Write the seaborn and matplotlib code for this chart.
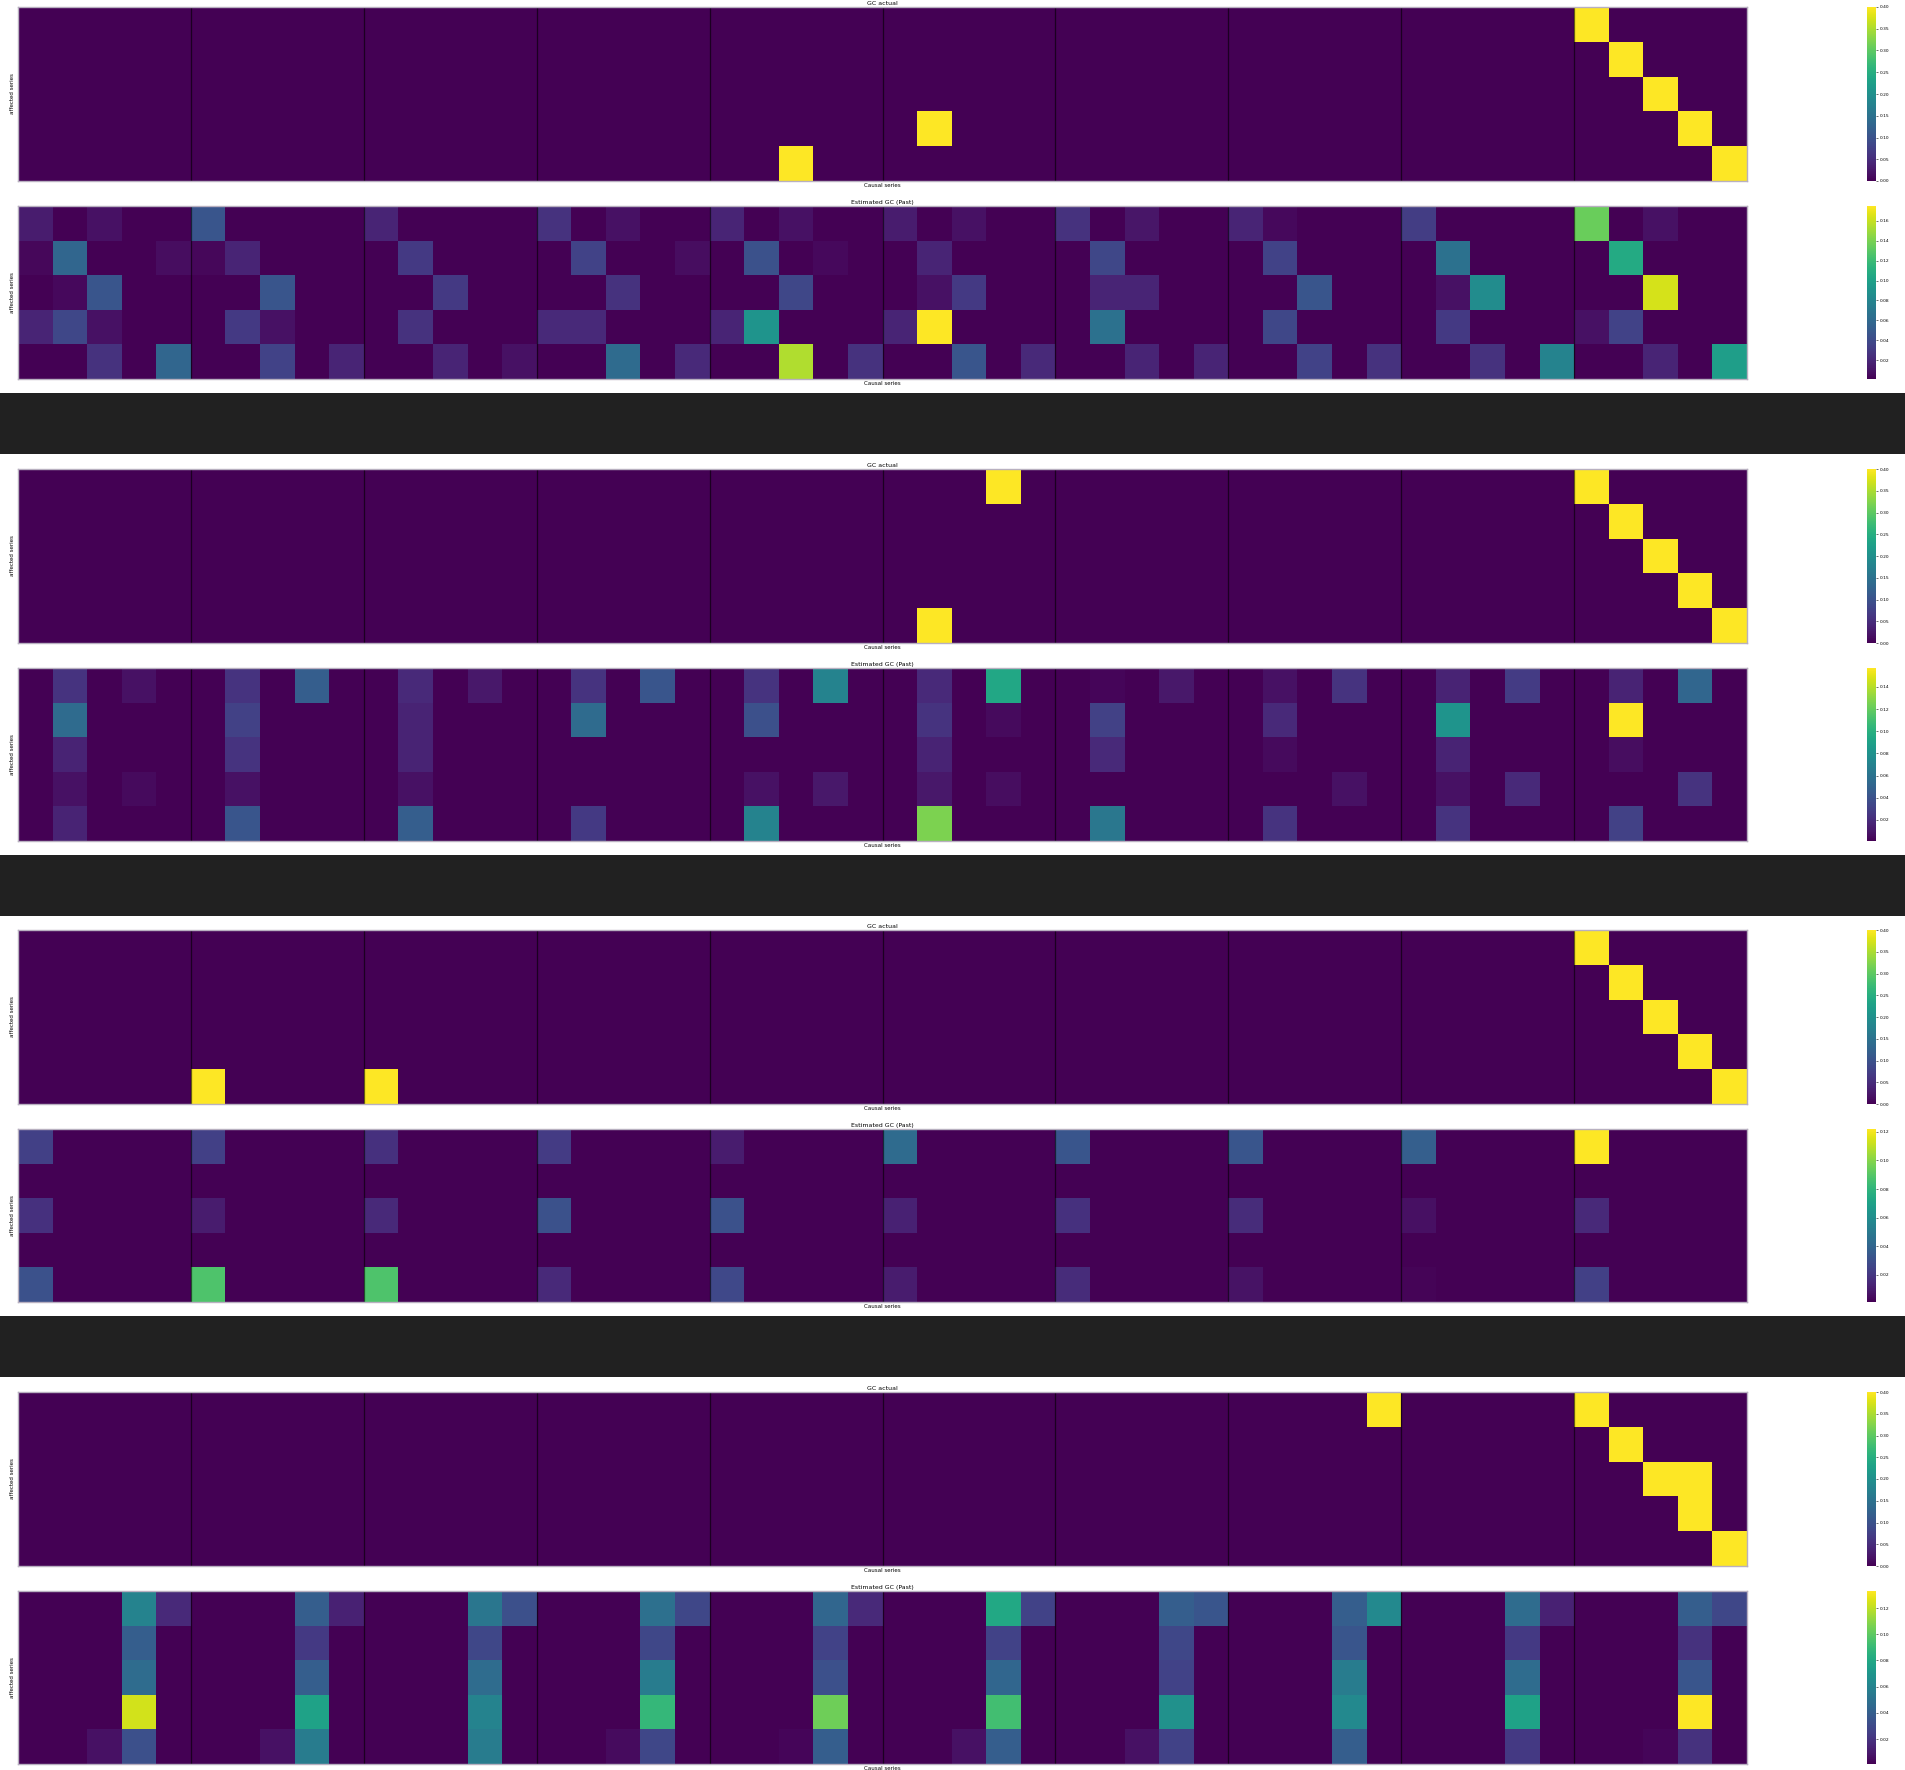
import numpy as np
import matplotlib
matplotlib.use("Agg")
import matplotlib.pyplot as plt
import seaborn as sns
from matplotlib.patches import Rectangle

# ------------------------------
# data: 5 affected series x 50 causal columns (10 lags x 5 series)
# ------------------------------
n_series = 5
n_lags = 10
gc_level = 0.4        # value of a true link in the "GC actual" matrix
est_floor = 0.001     # smallest estimated strength

# true links (row, col)
gc_actual_1 = [(4, 22), (3, 26), (0, 45), (1, 46), (2, 47), (3, 48), (4, 49)]
gc_actual_2 = [(0, 28), (4, 26), (0, 45), (1, 46), (2, 47), (3, 48), (4, 49)]
gc_actual_3 = [(4, 5), (4, 10), (0, 45), (1, 46), (2, 47), (3, 48), (4, 49)]
gc_actual_4 = [(0, 39), (0, 45), (1, 46), (2, 47), (2, 48), (3, 48), (4, 49)]

# estimated strengths (row, col, value)
est_1 = [
    (0, 0, 0.014), (0, 2, 0.009), (1, 0, 0.004), (1, 1, 0.058), (1, 4, 0.007),
    (2, 1, 0.005), (2, 2, 0.047), (3, 0, 0.018), (3, 1, 0.038), (3, 2, 0.009),
    (4, 2, 0.026), (4, 4, 0.058),
    (0, 5, 0.047), (1, 5, 0.004), (1, 6, 0.018), (2, 7, 0.047), (3, 6, 0.030),
    (3, 7, 0.009), (4, 7, 0.035), (4, 9, 0.018),
    (0, 10, 0.018), (1, 11, 0.030), (2, 12, 0.030), (3, 11, 0.026),
    (4, 12, 0.018), (4, 14, 0.009),
    (0, 15, 0.026), (0, 17, 0.009), (1, 16, 0.035), (1, 19, 0.007),
    (2, 17, 0.026), (3, 15, 0.021), (3, 16, 0.021), (4, 17, 0.061), (4, 19, 0.021),
    (0, 20, 0.018), (0, 22, 0.009), (1, 21, 0.044), (1, 23, 0.005),
    (2, 22, 0.038), (3, 20, 0.018), (3, 21, 0.091), (4, 22, 0.154), (4, 24, 0.026),
    (0, 25, 0.014), (0, 27, 0.009), (1, 26, 0.018), (2, 26, 0.009),
    (2, 27, 0.030), (3, 25, 0.018), (3, 26, 0.175), (4, 27, 0.047), (4, 29, 0.021),
    (0, 30, 0.026), (0, 32, 0.011), (1, 31, 0.038), (2, 31, 0.018),
    (2, 32, 0.018), (3, 31, 0.066), (4, 32, 0.018), (4, 34, 0.018),
    (0, 35, 0.018), (0, 36, 0.005), (1, 36, 0.035), (2, 37, 0.047),
    (3, 36, 0.038), (4, 37, 0.035), (4, 39, 0.026),
    (0, 40, 0.032), (1, 41, 0.066), (2, 41, 0.009), (2, 42, 0.085),
    (3, 41, 0.030), (4, 42, 0.026), (4, 44, 0.079),
    (0, 45, 0.135), (0, 47, 0.009), (1, 46, 0.107), (2, 47, 0.164),
    (3, 45, 0.009), (3, 46, 0.035), (4, 47, 0.018), (4, 49, 0.098),
]

est_2 = [
    (0, 1, 0.024), (0, 3, 0.008), (1, 1, 0.055), (2, 1, 0.016), (3, 1, 0.008),
    (3, 3, 0.005), (4, 1, 0.016),
    (0, 6, 0.024), (0, 8, 0.047), (1, 6, 0.031), (2, 6, 0.024), (3, 6, 0.008),
    (4, 6, 0.042),
    (0, 11, 0.019), (0, 13, 0.011), (1, 11, 0.016), (2, 11, 0.016),
    (3, 11, 0.008), (4, 11, 0.047),
    (0, 16, 0.024), (0, 18, 0.042), (1, 16, 0.055), (4, 16, 0.027),
    (0, 21, 0.024), (0, 23, 0.071), (1, 21, 0.039), (3, 21, 0.008),
    (3, 23, 0.011), (4, 21, 0.071),
    (0, 26, 0.019), (0, 28, 0.094), (1, 26, 0.024), (1, 28, 0.005),
    (2, 26, 0.016), (3, 26, 0.011), (3, 28, 0.006), (4, 26, 0.126),
    (0, 31, 0.003), (0, 33, 0.011), (1, 31, 0.031), (2, 31, 0.019), (4, 31, 0.063),
    (0, 36, 0.008), (0, 38, 0.024), (1, 36, 0.019), (2, 36, 0.005),
    (3, 38, 0.008), (4, 36, 0.024),
    (0, 41, 0.016), (0, 43, 0.028), (1, 41, 0.082), (2, 41, 0.016),
    (3, 41, 0.008), (3, 43, 0.019), (4, 41, 0.024),
    (0, 46, 0.016), (0, 48, 0.052), (1, 46, 0.157), (2, 46, 0.006),
    (3, 48, 0.024), (4, 46, 0.031),
]

est_3 = [
    (0, 0, 0.024), (0, 5, 0.024), (0, 10, 0.018), (0, 15, 0.022), (0, 20, 0.010),
    (0, 25, 0.043), (0, 30, 0.033), (0, 35, 0.033), (0, 40, 0.037), (0, 45, 0.122),
    (2, 0, 0.018), (2, 5, 0.010), (2, 10, 0.015), (2, 15, 0.031), (2, 20, 0.031),
    (2, 25, 0.012), (2, 30, 0.018), (2, 35, 0.016), (2, 40, 0.006), (2, 45, 0.015),
    (4, 0, 0.031), (4, 5, 0.088), (4, 10, 0.088), (4, 15, 0.015), (4, 20, 0.027),
    (4, 25, 0.010), (4, 30, 0.016), (4, 35, 0.007), (4, 40, 0.002), (4, 45, 0.024),
]

est_4 = [
    (0, 3, 0.060), (0, 4, 0.016), (1, 3, 0.040), (2, 3, 0.047), (3, 3, 0.124),
    (4, 2, 0.007), (4, 3, 0.033),
    (0, 8, 0.040), (0, 9, 0.013), (1, 8, 0.023), (2, 8, 0.040), (3, 8, 0.077),
    (4, 7, 0.007), (4, 8, 0.056),
    (0, 13, 0.053), (0, 14, 0.033), (1, 13, 0.029), (2, 13, 0.047),
    (3, 13, 0.060), (4, 13, 0.056),
    (0, 18, 0.049), (0, 19, 0.029), (1, 18, 0.029), (2, 18, 0.056),
    (3, 18, 0.089), (4, 17, 0.005), (4, 18, 0.029),
    (0, 23, 0.044), (0, 24, 0.016), (1, 23, 0.027), (2, 23, 0.033),
    (3, 23, 0.104), (4, 22, 0.003), (4, 23, 0.040),
    (0, 28, 0.080), (0, 29, 0.027), (1, 28, 0.027), (2, 28, 0.044),
    (3, 28, 0.093), (4, 27, 0.007), (4, 28, 0.040),
    (0, 33, 0.040), (0, 34, 0.036), (1, 33, 0.029), (2, 33, 0.027),
    (3, 33, 0.067), (4, 32, 0.007), (4, 33, 0.027),
    (0, 38, 0.040), (0, 39, 0.063), (1, 38, 0.036), (2, 38, 0.056),
    (3, 38, 0.063), (4, 38, 0.040),
    (0, 43, 0.047), (0, 44, 0.013), (1, 43, 0.023), (2, 43, 0.047),
    (3, 43, 0.077), (4, 43, 0.023),
    (0, 48, 0.040), (0, 49, 0.029), (1, 48, 0.020), (2, 48, 0.036),
    (3, 48, 0.133), (4, 47, 0.003), (4, 48, 0.020),
]

actual_sets = [gc_actual_1, gc_actual_2, gc_actual_3, gc_actual_4]
estimated_sets = [est_1, est_2, est_3, est_4]


def actual_matrix(links):
    m = np.zeros((n_series, n_series * n_lags))
    for r, c in links:
        m[r, c] = gc_level
    return m


def estimated_matrix(cells):
    m = np.full((n_series, n_series * n_lags), est_floor)
    for r, c, v in cells:
        m[r, c] = v
    return m


# ------------------------------
# layout (pixels)
# ------------------------------
W, H = 1906, 1770
fig = plt.figure(figsize=(W / 100, H / 100), dpi=100)
fig.patch.set_facecolor("white")


def px_axes(left, top, width, height):
    return fig.add_axes([left / W, 1 - (top + height) / H, width / W, height / H])


group_tops = [7, 469, 930, 1392]
band_tops = [393, 855, 1316]

for bt in band_tops:
    fig.patches.append(Rectangle((0, 1 - (bt + 61) / H), 1, 61 / H,
                                 transform=fig.transFigure, facecolor="#212121",
                                 edgecolor="none", zorder=-1))


def draw_panel(ax, cax, mat, title):
    sns.heatmap(mat, ax=ax, cbar_ax=cax, cmap="viridis",
                xticklabels=False, yticklabels=False)
    for k in range(1, n_lags):
        ax.axvline(k * n_series, color="black", lw=0.9, alpha=0.6)
    for s in ax.spines.values():
        s.set_visible(True)
        s.set_color("#b8b0c0")
        s.set_linewidth(1.0)
    ax.set_title(title, fontsize=4.5, pad=1.5)
    ax.set_xlabel("Causal series", fontsize=4, labelpad=1.5)
    ax.set_ylabel("affected series", fontsize=4, labelpad=2)
    cax.tick_params(labelsize=3.2, length=1.5, width=0.4, pad=1)
    cax.yaxis.set_major_formatter(matplotlib.ticker.FormatStrFormatter("%.2f"))
    for s in cax.spines.values():
        s.set_visible(False)


for g, top in enumerate(group_tops):
    ax1 = px_axes(18, top, 1729, 174)
    cax1 = px_axes(1867, top, 9, 174)
    draw_panel(ax1, cax1, actual_matrix(actual_sets[g]), "GC actual")

    ax2 = px_axes(18, top + 199, 1729, 173)
    cax2 = px_axes(1867, top + 199, 9, 173)
    draw_panel(ax2, cax2, estimated_matrix(estimated_sets[g]), "Estimated GC (Past)")

fig.savefig("out.png", dpi=100)
